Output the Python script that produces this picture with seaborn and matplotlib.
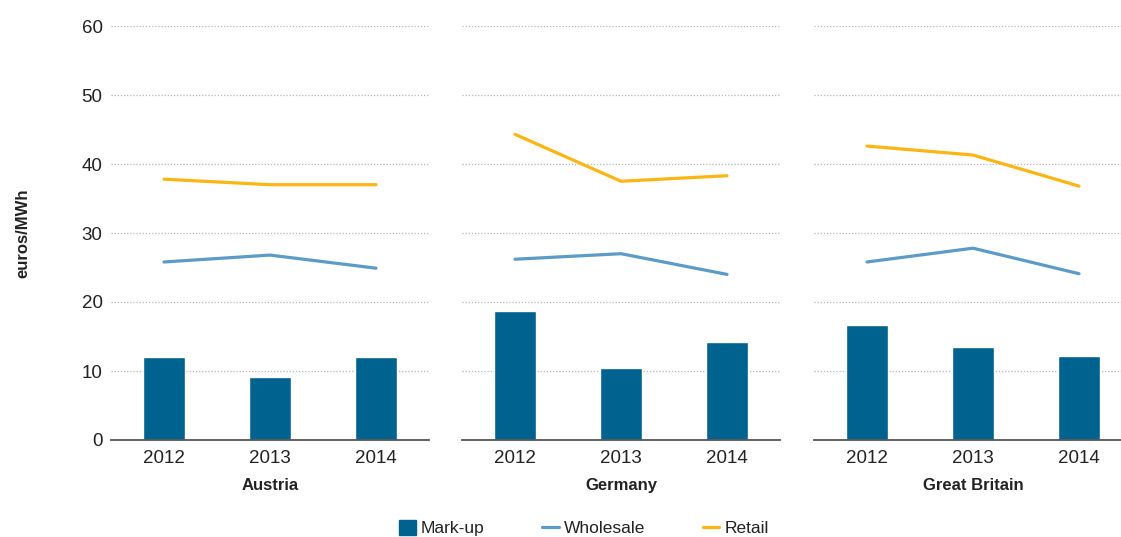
import matplotlib
matplotlib.use("Agg")
import matplotlib.pyplot as plt
import seaborn as sns
import pandas as pd
from matplotlib.patches import Patch
from matplotlib.lines import Line2D

# Data (euros/MWh)
countries = ["Austria", "Germany", "Great Britain"]
years = ["2012", "2013", "2014"]
markup = {
    "Austria": [12.0, 9.2, 12.0],
    "Germany": [18.7, 10.4, 14.2],
    "Great Britain": [16.7, 13.5, 12.2],
}
wholesale = {
    "Austria": [25.8, 26.8, 24.9],
    "Germany": [26.2, 27.0, 24.0],
    "Great Britain": [25.8, 27.8, 24.1],
}
retail = {
    "Austria": [37.8, 37.0, 37.0],
    "Germany": [44.3, 37.5, 38.3],
    "Great Britain": [42.6, 41.3, 36.8],
}
yticks = [0, 10, 20, 30, 40, 50, 60]

BAR_C = "#00628f"
WHOLE_C = "#5b9bc6"
RETAIL_C = "#fbb614"
TEXT_C = "#222222"

sns.set_theme(style="white")
plt.rcParams["font.family"] = ["Liberation Sans", "DejaVu Sans"]

W, H = 1121, 537
fig = plt.figure(figsize=(W / 100, H / 100), dpi=100)

lefts = [111, 462, 814]
pw = 318
top_px, bot_px = 26, 440

for i, c in enumerate(countries):
    ax = fig.add_axes([lefts[i] / W, (H - bot_px) / H, pw / W, (bot_px - top_px) / H])
    df = pd.DataFrame({"year": years, "markup": markup[c],
                       "wholesale": wholesale[c], "retail": retail[c]})
    sns.barplot(data=df, x="year", y="markup", color=BAR_C, width=0.4,
                saturation=1, ax=ax, zorder=3)
    sns.lineplot(data=df, x="year", y="wholesale", color=WHOLE_C, lw=2.3,
                 ax=ax, zorder=4, sort=False)
    sns.lineplot(data=df, x="year", y="retail", color=RETAIL_C, lw=2.3,
                 ax=ax, zorder=4, sort=False)
    ax.set_xlim(-0.5, 2.5)
    ax.set_ylim(0, 60)
    ax.set_yticks(yticks)
    ax.yaxis.grid(True, linestyle=(0, (1, 1.5)), color="#b8b8b8", lw=0.9, zorder=0)
    ax.xaxis.grid(False)
    for s in ["top", "right", "left"]:
        ax.spines[s].set_visible(False)
    ax.spines["bottom"].set_color("#555555")
    ax.spines["bottom"].set_linewidth(1.3)
    ax.spines["bottom"].set_zorder(5)
    ax.tick_params(axis="both", length=0, labelsize=13.5, colors=TEXT_C)
    ax.tick_params(axis="x", pad=7)
    ax.set_xlabel(c, fontsize=12, fontweight="bold", color=TEXT_C, labelpad=8)
    if i == 0:
        ax.set_ylabel("euros/MWh", fontsize=12, fontweight="bold", color=TEXT_C, labelpad=37)
        ax.tick_params(axis="y", pad=6)
    else:
        ax.set_ylabel("")
        ax.set_yticklabels([])

handles = [
    Patch(facecolor=BAR_C, edgecolor=BAR_C),
    Line2D([], [], color=WHOLE_C, lw=2.3),
    Line2D([], [], color=RETAIL_C, lw=2.3),
]
fig.legend(handles, ["Mark-up", "Wholesale", "Retail"], loc="center",
           bbox_to_anchor=(584 / W, (H - 528) / H), ncol=3, frameon=False,
           fontsize=12.5, handlelength=0.95, handleheight=1.0, handletextpad=0.3,
           columnspacing=3.3, labelcolor=TEXT_C)

fig.savefig("out.png", dpi=100)
